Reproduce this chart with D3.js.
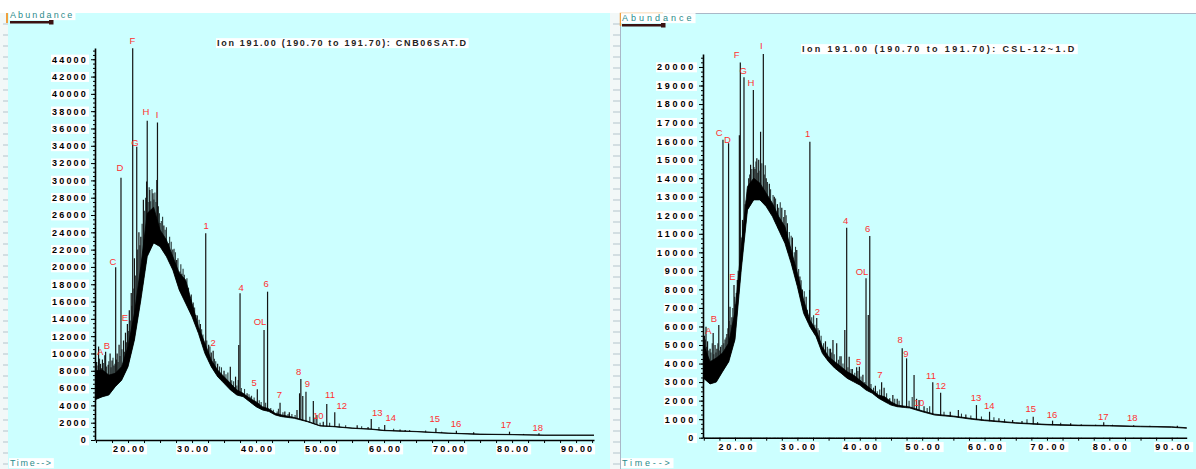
<!DOCTYPE html>
<html>
<head>
<meta charset="utf-8">
<script src="https://cdn.jsdelivr.net/npm/d3@7"></script>
<style>
  body { margin: 0; background: #fff; }
  svg { display: block; font-family: "Liberation Sans", Arial, sans-serif; }
</style>
</head>
<body>
<svg id="chart" width="1196" height="469"></svg>
<script>
// ---- left run: CNB06SAT.D ----
const timesL = [14.9, 15, 16, 17, 18, 19, 20, 21, 22, 23, 24, 25, 26, 27, 28, 29, 30, 31, 32, 33, 34, 35, 36, 37, 38, 39, 40, 41, 42, 43, 44, 46, 48, 50, 52, 55, 58, 60, 65, 70, 75, 80, 85, 90, 92.8];
const lowL = [5000, 4700, 5000, 5200, 6160, 6900, 8470, 11560, 16180, 21200, 22780, 22350, 21200, 19650, 17340, 15800, 14250, 12330, 10020, 8470, 7320, 6550, 5780, 5200, 5000, 4430, 3850, 3470, 3300, 2890, 2700, 2500, 2120, 1620, 1540, 1350, 1230, 1080, 960, 770, 650, 610, 540, 540, 540];
const upL = [7500, 8000, 8100, 7500, 7700, 8470, 10790, 14640, 20040, 26200, 26900, 24280, 23120, 21200, 19270, 18500, 15800, 13100, 11200, 9250, 8090, 7320, 6550, 5780, 5400, 4820, 4430, 3850, 3600, 3080, 2900, 2600, 2180, 1660, 1580, 1390, 1270, 1120, 990, 800, 680, 640, 570, 570, 570];
const peaksL = [[15.4, 10800], [16.5, 10200], [17.2, 10000], [18.07, 19960], [18.9, 30300], [19.9, 13400], [20.73, 45280], [21.36, 33900], [23.0, 36900], [24.6, 36700], [32.14, 23900], [33.3, 10300], [37.5, 16960], [40.2, 5860], [41.25, 12720], [41.8, 17140], [43.75, 4310], [47.0, 7050], [47.8, 5590], [48.95, 4500], [51.05, 4160], [52.3, 3200], [58.0, 2430], [60.1, 1730], [68.1, 1350], [71.3, 1080], [79.6, 960], [84.2, 770]];
const noiseL = [[15.1, 9000], [15.7, 8800], [16.0, 9300], [16.9, 8700], [17.5, 9200], [17.8, 8600], [18.3, 10000], [18.6, 11000], [19.3, 11500], [19.6, 12400], [20.2, 15000], [20.5, 17000], [21.0, 21000], [21.7, 24000], [22.0, 23500], [22.4, 27750], [22.9, 29860], [23.4, 28900], [23.9, 28520], [24.5, 30060], [25.0, 25090], [25.6, 24800], [26.3, 22740], [27.0, 22000], [27.6, 20800], [28.1, 19460], [28.4, 19200], [29.0, 18000], [29.7, 16185], [30.6, 14450], [31.3, 13400], [32.6, 11000], [33.0, 10100], [34.0, 8800], [35.0, 8000], [35.98, 8470], [36.8, 7320], [37.23, 6940], [37.3, 10980], [38.6, 5400], [39.06, 5000], [44.5, 3300], [45.2, 3200], [46.4, 3470], [46.8, 5400], [47.3, 5090], [49.5, 2900], [50.5, 2100], [55.8, 1700], [57.5, 1500], [62.5, 1200], [63.3, 1150], [74.0, 900], [81.8, 700]];
const hairL = [[15.3, 8600], [15.55, 9400], [15.85, 8300], [16.2, 8900], [16.35, 9800], [16.65, 8500], [17.0, 9100], [17.35, 8400], [17.65, 9500], [17.95, 8800], [18.2, 9300], [18.45, 9000], [18.75, 9700], [19.05, 10500], [19.45, 10200], [19.75, 11300], [20.05, 12600], [20.35, 13800], [20.6, 15500], [20.9, 17500], [21.15, 19000], [21.5, 22000], [21.85, 22500], [22.2, 25000], [22.6, 26500], [22.75, 28000], [23.15, 27500], [23.3, 29200], [23.55, 27600], [23.75, 29000], [24.05, 27800], [24.2, 28600], [24.35, 27500], [24.75, 27000], [24.9, 26200], [25.2, 25300], [25.4, 25800], [25.8, 24300], [26.0, 24600], [26.5, 23500], [26.75, 22900], [27.2, 22100], [27.4, 21700], [27.8, 21000], [28.25, 20300], [28.6, 19800], [28.8, 19100], [29.2, 18700], [29.45, 17600], [29.9, 16800], [30.2, 15900], [30.4, 15300], [30.85, 14400], [31.1, 13900], [31.5, 12800], [31.7, 12200], [32.3, 11500], [32.8, 10800], [33.5, 9400], [33.7, 9100], [34.3, 8500], [34.6, 8400], [35.3, 7600], [35.6, 7800], [36.2, 6900], [36.5, 6800], [37.0, 6300], [37.7, 6000], [38.2, 5900], [38.9, 5300], [39.3, 5100], [39.7, 4900], [40.5, 4600], [40.8, 4400], [41.5, 4300], [42.3, 3700], [42.7, 3500], [43.3, 3300], [43.5, 3600], [44.2, 3200], [45.0, 3000], [45.6, 3000], [46.1, 2900], [48.4, 2700], [49.2, 2600], [50.0, 2000], [51.5, 2000], [53.0, 1900], [54.0, 1700], [56.5, 1600], [59.2, 1500], [61.5, 1300], [64.0, 1150], [66.5, 1100], [69.0, 950]];
const labelsL = [['A', 15.63, 10170], ['B', 16.72, 10860], ['C', 17.66, 20570], ['D', 18.75, 31430], ['E', 19.53, 14100], ['F', 20.7, 46100], ['G', 21.09, 34320], ['H', 22.81, 37900], ['I', 24.53, 37550], ['1', 32.19, 24730], ['2', 33.28, 11210], ['4', 37.66, 17560], ['5', 39.69, 6590], ['OL', 40.63, 13690], ['6', 41.56, 18110], ['7', 43.64, 5200], ['8', 46.67, 7890], ['9', 48.02, 6470], ['10', 49.73, 2770], ['11', 51.56, 5200], ['12', 53.39, 3930], ['13', 58.95, 3200], ['14', 61.05, 2620], ['15', 67.92, 2430], ['16', 71.25, 1930], ['17', 79.06, 1810], ['18', 84.02, 1420]];

// ---- right run: CSL-12~1.D ----
const timesR = [14.9, 15, 16, 17, 18, 19, 20, 21, 22, 23, 24, 25, 26, 27, 28, 29, 30, 31, 32, 33, 34, 35, 36, 37, 38, 39, 40, 41, 42, 43, 44, 45, 46, 48, 50, 52, 55, 58, 60, 65, 70, 75, 80, 85, 90, 92.4];
const lowR = [2600, 3200, 2900, 3000, 3560, 4100, 5300, 9050, 12290, 12830, 12830, 12470, 11930, 11210, 10490, 9410, 8150, 6710, 5990, 5450, 4550, 4100, 3750, 3480, 3200, 3020, 2840, 2570, 2400, 2130, 1940, 1760, 1670, 1600, 1400, 1220, 1130, 990, 920, 780, 690, 650, 630, 590, 560, 510];
const upR = [4500, 5000, 4100, 4300, 4570, 5110, 6800, 10300, 13550, 14000, 13730, 13190, 12650, 11930, 11390, 10130, 8870, 7430, 6350, 5810, 4910, 4370, 4100, 3830, 3560, 3380, 3110, 2840, 2570, 2300, 2210, 1940, 1760, 1660, 1450, 1270, 1170, 1030, 960, 810, 720, 680, 660, 620, 590, 540];
const peaksR = [[15.35, 5990], [16.5, 5650], [17.4, 6080], [18.07, 16070], [18.97, 15890], [19.84, 8240], [20.85, 20240], [21.44, 19450], [22.94, 18760], [24.54, 20700], [32.0, 15970], [33.1, 6460], [37.9, 11330], [39.93, 3830], [41.0, 8600], [41.6, 10880], [43.5, 2990], [46.8, 4820], [47.5, 4280], [49.5, 2030], [51.7, 2990], [52.96, 2430], [58.7, 1760], [60.8, 1400], [67.8, 1130], [70.9, 920], [79.1, 830], [83.9, 670]];
const noiseR = [[15.1, 5500], [15.6, 5200], [16.0, 4800], [16.8, 5000], [17.1, 4800], [17.7, 4900], [18.4, 5300], [18.7, 5600], [19.2, 7070], [19.5, 6500], [20.0, 7200], [20.37, 8510], [20.7, 16320], [21.2, 11750], [21.8, 12800], [22.2, 14000], [22.5, 14720], [23.2, 14500], [23.5, 15080], [23.8, 15000], [24.1, 16510], [25.0, 14000], [25.5, 13700], [26.3, 13000], [26.8, 12600], [27.5, 12400], [28.0, 12290], [28.4, 11570], [29.2, 10800], [29.9, 10130], [30.4, 8690], [30.8, 8000], [31.4, 7600], [31.95, 7970], [33.5, 5800], [34.5, 5200], [35.3, 4800], [35.7, 5270], [36.3, 5090], [37.0, 4400], [37.6, 5810], [38.3, 4370], [38.8, 3700], [39.5, 3800], [40.5, 3400], [41.36, 6620], [42.5, 2800], [43.9, 2700], [44.8, 2130], [45.3, 2300], [46.0, 2100], [48.7, 3380], [49.1, 2100], [50.3, 1700], [54.5, 1400], [55.8, 1500], [57.0, 1250], [62.3, 1050], [64.5, 950], [66.0, 900], [73.8, 780], [77.8, 700], [90.9, 650]];
const hairR = [[15.25, 5300], [15.45, 4900], [15.8, 4700], [16.15, 4600], [16.35, 5100], [16.6, 4500], [16.95, 4600], [17.25, 5100], [17.55, 4700], [17.9, 5000], [18.2, 5100], [18.55, 5400], [18.85, 5900], [19.05, 6300], [19.35, 6100], [19.65, 7000], [19.95, 7600], [20.2, 7800], [20.5, 9000], [21.0, 10800], [21.6, 12600], [22.0, 13400], [22.35, 14200], [22.7, 14500], [23.05, 14600], [23.35, 14900], [23.65, 14300], [24.0, 14400], [24.3, 14800], [24.7, 14200], [24.85, 14700], [25.2, 13800], [25.7, 13400], [26.1, 13100], [26.5, 12900], [27.0, 12400], [27.25, 12700], [27.8, 11900], [28.2, 12000], [28.7, 11100], [29.0, 10900], [29.5, 10000], [29.7, 10300], [30.2, 9100], [30.6, 8500], [31.1, 7900], [31.6, 6900], [32.3, 6500], [32.6, 6600], [32.8, 6100], [33.3, 5900], [33.8, 5500], [34.2, 5100], [34.8, 4900], [35.1, 4800], [35.5, 4600], [35.9, 4500], [36.6, 4200], [36.8, 4400], [37.3, 4000], [38.1, 3800], [38.6, 3700], [39.2, 3500], [39.7, 3600], [40.2, 3300], [40.8, 3000], [41.8, 2900], [42.2, 2700], [42.8, 2500], [43.2, 2600], [44.3, 2400], [45.6, 2100], [46.3, 2000], [47.9, 2000], [48.4, 2200], [50.8, 1600], [51.2, 1700], [53.5, 1400], [56.3, 1300], [57.8, 1200], [59.5, 1150], [61.5, 1100], [63.2, 1000], [66.8, 1000], [68.5, 850], [72.2, 800], [75.5, 720], [80.5, 700], [86.5, 640]];
const labelsR = [['A', 15.72, 5770], ['B', 16.63, 6440], ['C', 17.48, 16480], ['D', 18.77, 16100], ['E', 19.57, 8690], ['F', 20.27, 20650], ['G', 21.33, 19800], ['H', 22.56, 19170], ['I', 24.22, 21130], ['1', 31.65, 16420], ['2', 33.19, 6800], ['4', 37.74, 11710], ['5', 39.82, 4100], ['OL', 40.36, 8960], ['6', 41.27, 11300], ['7', 43.24, 3420], ['8', 46.45, 5270], ['9', 47.41, 4550], ['10', 49.49, 1910], ['11', 51.42, 3350], ['12', 52.97, 2810], ['13', 58.63, 2160], ['14', 60.76, 1750], ['15', 67.39, 1550], ['16', 70.81, 1240], ['17', 79.03, 1150], ['18', 83.68, 1080]];

const BG = '#ccffff';
const svg = d3.select('#chart');

// white label boxes behind texts, like the instrument print-out
function boxBehind(sel, pad) {
    sel.each(function () {
        const b = this.getBBox();
        d3.select(this.parentNode).insert('rect', () => this)
            .attr('x', b.x - pad).attr('y', b.y)
            .attr('width', b.width + pad * 2).attr('height', b.height)
            .attr('fill', '#fff');
    });
}

function drawPanel(p) {
    const g = svg.append('g');

    // panel background + ruler strip on the left
    g.append('rect').attr('x', p.box[0]).attr('y', 13).attr('width', p.box[1] - p.box[0]).attr('height', 456).attr('fill', BG);
    g.append('rect').attr('x', p.strip[0]).attr('y', 13).attr('width', p.strip[1] - p.strip[0]).attr('height', 456).attr('fill', '#f2f8f8');
    g.selectAll('line.rule').data(d3.range(24, 469, 11)).join('line')
        .attr('x1', p.strip[0] + 3).attr('x2', p.strip[1]).attr('y1', d => d).attr('y2', d => d)
        .attr('stroke', '#b4c4cc').attr('stroke-width', 1);
    if (p.border) {
        g.append('path').attr('d', `M${p.box[0] + 0.5},469V13.5H1196`).attr('fill', 'none').attr('stroke', '#a9b8c8');
        g.append('path').attr('d', `M${p.box[0] + 0.5},26V13.5H${p.box[0] + 43}`).attr('fill', 'none').attr('stroke', '#f0a040').attr('stroke-width', 1.5);
    } else {
        g.append('line').attr('x1', p.box[0] - 1).attr('x2', p.box[0] - 1).attr('y1', 13).attr('y2', 23).attr('stroke', '#f0a040').attr('stroke-width', 2);
    }

    const x = d3.scaleLinear().domain(p.tDomain).range(p.xRange);
    const y = d3.scaleLinear().domain([0, p.vMax]).range(p.yRange);

    // spikes, drawn from the axis up; the part under the trace gets covered below
    g.selectAll('line.hair').data(p.hair).join('line')
        .attr('x1', d => x(d[0])).attr('x2', d => x(d[0]))
        .attr('y1', y(0)).attr('y2', d => y(d[1]))
        .attr('stroke', '#2a3a3a').attr('stroke-width', 1.1);
    g.selectAll('line.spike').data(p.peaks.concat(p.noise)).join('line')
        .attr('x1', d => x(d[0])).attr('x2', d => x(d[0]))
        .attr('y1', y(0)).attr('y2', d => y(d[1]))
        .attr('stroke', '#141414').attr('stroke-width', 1.2);

    const pts = p.times.map((t, i) => ({ t: t, lo: p.low[i], hi: p.up[i] }));
    g.append('path').datum(pts)
        .attr('d', d3.area().x(d => x(d.t)).y0(y(0)).y1(d => y(d.lo)))
        .attr('fill', BG);
    g.append('path').datum(pts)
        .attr('d', d3.area().x(d => x(d.t)).y0(d => y(d.lo)).y1(d => y(d.hi)))
        .attr('fill', '#000');
    g.append('path').datum(pts)
        .attr('d', d3.line().x(d => x(d.t)).y(d => y(d.hi)))
        .attr('fill', 'none').attr('stroke', '#000').attr('stroke-width', 0.8);
    g.append('path').datum(pts)
        .attr('d', d3.line().x(d => x(d.t)).y(d => y(d.lo)))
        .attr('fill', 'none').attr('stroke', '#000').attr('stroke-width', 0.8);

    // y axis
    const yMinor = g.append('g').attr('transform', `translate(${p.xRange[0]},0)`)
        .call(d3.axisLeft(y).tickValues(d3.range(0, p.vMax, p.yMinor)).tickSize(2).tickFormat(''));
    yMinor.select('.domain').remove();
    const yAx = g.append('g').attr('transform', `translate(${p.xRange[0]},0)`)
        .call(d3.axisLeft(y).tickValues(d3.range(0, p.vMax, p.yStep)).tickSize(4).tickPadding(3).tickSizeOuter(0).tickFormat(d3.format('d')));
    yAx.select('.domain').attr('stroke-width', 1.6);
    yAx.selectAll('text').attr('font-size', 9).attr('font-weight', 'bold').attr('letter-spacing', p.lsY).attr('fill', '#000');
    boxBehind(yAx.selectAll('text'), 1);

    // x axis
    const xAx = g.append('g').attr('transform', `translate(0,${p.yRange[0]})`)
        .call(d3.axisBottom(x).tickValues(d3.range(15, p.tDomain[1], 2.5)).tickSize(3).tickPadding(3).tickSizeOuter(0)
            .tickFormat(d => d % 10 === 0 ? d3.format('.2f')(d) : ''));
    xAx.select('.domain').attr('stroke-width', 1.6);
    xAx.selectAll('text').attr('font-size', 9).attr('font-weight', 'bold').attr('letter-spacing', p.lsX).attr('fill', '#000')
        .attr('dx', p.lsX / 2);
    boxBehind(xAx.selectAll('text').filter(function () { return this.textContent !== ''; }), 1);

    // peak labels
    g.selectAll('text.peak').data(p.labels).join('text')
        .attr('x', d => x(d[1])).attr('y', d => y(d[2]))
        .attr('dy', '0.35em').attr('text-anchor', 'middle')
        .attr('font-size', 9.5).attr('fill', '#ff3030')
        .text(d => d[0]);

    // title and corner captions
    const title = g.append('text').attr('x', p.title[0]).attr('y', p.title[1]).attr('dy', '0.35em')
        .attr('font-size', 9).attr('font-weight', 'bold').attr('letter-spacing', p.lsT).attr('fill', '#222')
        .text(p.titleText);
    boxBehind(title, 1);

    const ab = g.append('text').attr('x', p.box[0] + 2).attr('y', p.abY).attr('dy', '0.35em')
        .attr('font-size', 9).attr('letter-spacing', p.lsA).attr('fill', '#2b8c8c').text('Abundance');
    boxBehind(ab, 1);
    g.append('rect').attr('x', p.box[0] + 2).attr('y', p.abY + 6).attr('width', 42).attr('height', 2.5).attr('fill', '#3a1212');
    g.append('rect').attr('x', p.box[0] + 41).attr('y', p.abY + 5).attr('width', 4.5).attr('height', 4.5).attr('fill', '#3a1212');

    const tm = g.append('text').attr('x', p.box[0] + 2).attr('y', 463).attr('dy', '0.35em')
        .attr('font-size', 9).attr('letter-spacing', p.lsTime).attr('fill', '#2b8c8c').text(p.timeText);
    boxBehind(tm, 1);
}

drawPanel({
    box: [8, 610], strip: [0, 8], border: false,
    tDomain: [14.84, 92.8], xRange: [95, 594],
    vMax: 45300, yRange: [440, 48], yStep: 2000, yMinor: 500,
    times: timesL, low: lowL, up: upL, peaks: peaksL, noise: noiseL, hair: hairL, labels: labelsL,
    title: [217, 43], titleText: 'Ion 191.00 (190.70 to 191.70): CNB06SAT.D',
    lsY: 2.2, lsX: 2.1, lsT: 1.7, lsA: 2.1, lsTime: 1.7, abY: 15, timeText: 'Time-->'
});

drawPanel({
    box: [620, 1196], strip: [610, 620], border: true,
    tDomain: [14.87, 92.4], xRange: [703, 1186.7],
    vMax: 20700, yRange: [437.7, 54], yStep: 1000, yMinor: 250,
    times: timesR, low: lowR, up: upR, peaks: peaksR, noise: noiseR, hair: hairR, labels: labelsR,
    title: [802, 49], titleText: 'Ion 191.00 (190.70 to 191.70): CSL-12~1.D',
    lsY: 2.8, lsX: 2.9, lsT: 2.4, lsA: 3.0, lsTime: 2.8, abY: 18, timeText: 'Time-->'
});
</script>
</body>
</html>
